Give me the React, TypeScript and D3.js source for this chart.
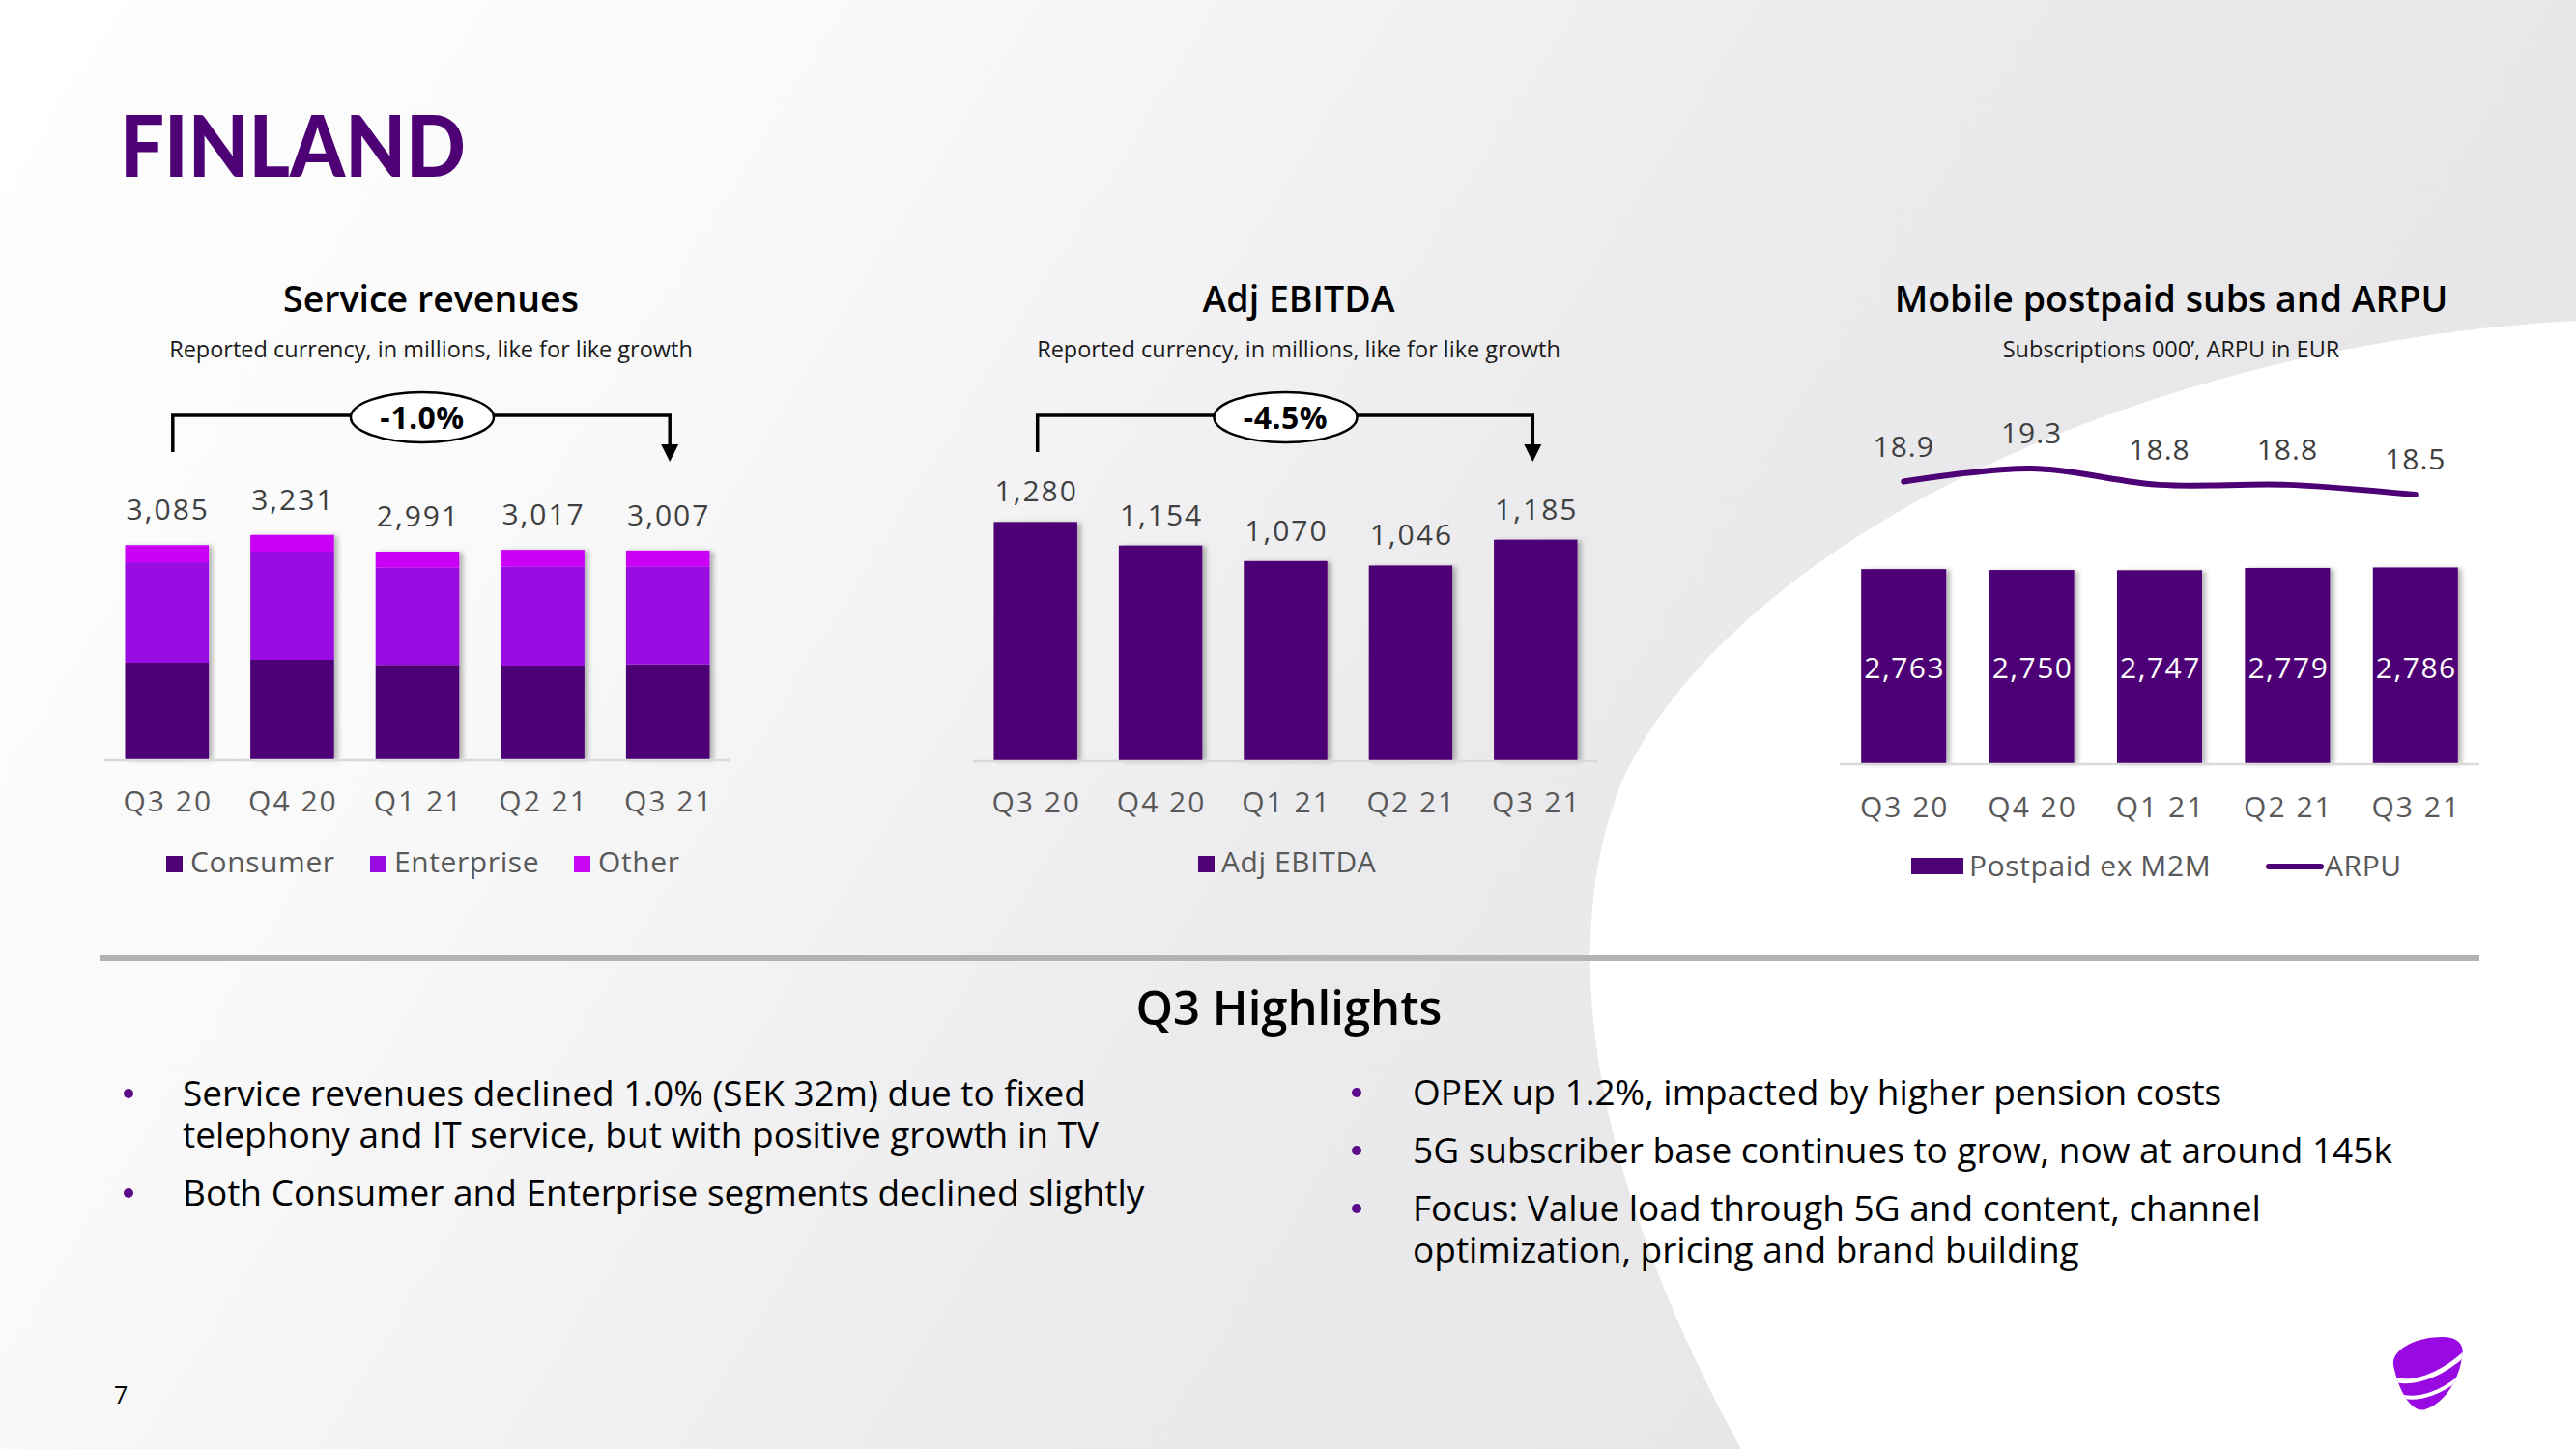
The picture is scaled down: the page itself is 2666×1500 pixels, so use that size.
import React from "react";
import * as d3 from "d3";

// ---------- data ----------
const categories = ["Q3 20", "Q4 20", "Q1 21", "Q2 21", "Q3 21"];
const consumer = [1391, 1433, 1359, 1349, 1367];
const enterprise = [1446, 1558, 1399, 1423, 1405];
const other = [248, 240, 233, 245, 235];
const serviceTotals = [3085, 3231, 2991, 3017, 3007];
const ebitda = [1280, 1154, 1070, 1046, 1185];
const postpaid = [2763, 2750, 2747, 2779, 2786];
const arpu = [18.9, 19.3, 18.8, 18.8, 18.5];
const segmentNames = ["Consumer", "Enterprise", "Other"];
const growthLabels = ["-1.0%", "-4.5%"];
const leftBullets = [
  ["Service revenues declined 1.0% (SEK 32m) due to fixed", "telephony and IT service, but with positive growth in TV"],
  ["Both Consumer and Enterprise segments declined slightly"],
];
const rightBullets = [
  ["OPEX up 1.2%, impacted by higher pension costs"],
  ["5G subscriber base continues to grow, now at around 145k"],
  ["Focus: Value load through 5G and content, channel", "optimization, pricing and brand building"],
];

// ---------- styles ----------
const DARK = "#4E0174";
const PURPLE = "#990AE3";
const MAGENTA = "#C905F5";
const segColors = [DARK, PURPLE, MAGENTA];
const FONT = "'Open Sans', 'Noto Sans', sans-serif";
const VAL = "#404040";
const CAT = "#595959";
const LS = 2;
const fmt = d3.format(",");

function Bracket({ x0, x1, cx, label }: { x0: number; x1: number; cx: number; label: string }) {
  const yTop = 430;
  return (
    <g>
      <path d={`M${x0},468 V${yTop} H${x1} V462`} fill="none" stroke="#000" strokeWidth={3.5} />
      <path d={`M${x1 - 9},460 L${x1 + 9},460 L${x1},478 Z`} fill="#000" />
      <ellipse cx={cx} cy={432} rx={74} ry={26} fill="#fff" stroke="#000" strokeWidth={2.5} />
      <text x={cx} y={444} textAnchor="middle" fontFamily={FONT} fontWeight={700} fontSize={32} letterSpacing={0.5} fill="#000">
        {label}
      </text>
    </g>
  );
}

function ChartTitle({ cx, title, sub }: { cx: number; title: string; sub: string }) {
  return (
    <g fontFamily={FONT}>
      <text x={cx} y={323} textAnchor="middle" fontSize={37.5} fontWeight={600} fill="#000">{title}</text>
      <text x={cx} y={370} textAnchor="middle" fontSize={23.5} fill="#1a1a1a">{sub}</text>
    </g>
  );
}

function Bullets({ items, dotX, textX, startY }: { items: string[][]; dotX: number; textX: number; startY: number }) {
  let y = startY;
  return (
    <g>
      {items.map((lines, bi) => {
        const y0 = y;
        y += lines.length * 43 + 17;
        return (
          <g key={bi}>
            <circle cx={dotX} cy={y0 - 13} r={5} fill="#5A0C8A" />
            <text x={textX} y={y0}>
              {lines.map((l, li) => (
                <tspan key={li} x={textX} dy={li === 0 ? 0 : 43}>{l}</tspan>
              ))}
            </text>
          </g>
        );
      })}
    </g>
  );
}

export default function App() {
  // Chart 1: service revenues (stacked)
  const x1 = d3.scaleBand<string>().domain(categories).range([108, 756]).paddingInner(0.332).paddingOuter(0.166);
  const y1 = d3.scaleLinear().domain([0, 3500]).range([786, 534.4]);
  const stackData = categories.map((c, i) => ({ cat: c, Consumer: consumer[i], Enterprise: enterprise[i], Other: other[i] }));
  const stacked = d3.stack<any>().keys(segmentNames)(stackData);

  // Chart 2: EBITDA
  const x2 = d3.scaleBand<string>().domain(categories).range([1007, 1654]).paddingInner(0.332).paddingOuter(0.166);
  const y2 = d3.scaleLinear().domain([0, 1400]).range([787, 517.2]);

  // Chart 3: postpaid + ARPU
  const x3 = d3.scaleBand<string>().domain(categories).range([1904, 2566]).paddingInner(0.335).paddingOuter(0.1675);
  const y3 = d3.scaleLinear().domain([0, 3000]).range([790, 571.9]);
  const yA = d3.scaleLinear().domain([18.5, 19.3]).range([512, 485]);
  const arpuLine = d3
    .line<number>()
    .x((_, i) => (x3(categories[i]) as number) + x3.bandwidth() / 2)
    .y((d) => yA(d))
    .curve(d3.curveCatmullRom.alpha(0.5));

  const cx = (s: d3.ScaleBand<string>, c: string) => (s(c) as number) + s.bandwidth() / 2;

  return (
    <svg width={2666} height={1500} style={{ position: "absolute", left: 0, top: 0 }} xmlns="http://www.w3.org/2000/svg">
      <defs>
        <linearGradient id="bg" x1="0" y1="0" x2="1" y2="0.35">
          <stop offset="0" stopColor="#ffffff" />
          <stop offset="0.3" stopColor="#f9f9fa" />
          <stop offset="0.65" stopColor="#ebebed" />
          <stop offset="1" stopColor="#e6e6e8" />
        </linearGradient>
        <filter id="sh" x="-20%" y="-10%" width="150%" height="120%">
          <feDropShadow dx="4" dy="1" stdDeviation="2.5" floodColor="#000" floodOpacity="0.28" />
        </filter>
        <clipPath id="logoClip">
          <path d="M2 30 C0 12 30 0 55 1 C70 2 76 10 73 22 C70 45 55 70 35 76 C22 80 8 60 2 30 Z" />
        </clipPath>
      </defs>

      {/* background */}
      <rect x={0} y={0} width={2666} height={1500} fill="url(#bg)" />
      <path d="M2666,332 C2210,357 1802,561 1683,799 C1615,952 1632,1190 1802,1500 L2666,1500 Z" fill="#fff" />

      {/* page title */}
      <text x={124} y={183} fontFamily="Lato, 'Open Sans', sans-serif" fontWeight={900} fontSize={88} fill={DARK}
        textLength={358} lengthAdjust="spacingAndGlyphs">FINLAND</text>

      {/* ---------- Chart 1 ---------- */}
      <ChartTitle cx={446} title="Service revenues" sub="Reported currency, in millions, like for like growth" />
      <Bracket x0={cx(x1, categories[0]) + 6} x1={cx(x1, categories[4]) + 2} cx={cx(x1, categories[2]) + 5} label={growthLabels[0]} />
      <g filter="url(#sh)">
        {stacked.map((layer, li) =>
          layer.map((d, i) => (
            <rect key={`${li}-${i}`} x={x1(categories[i])} y={y1(d[1])} width={x1.bandwidth()} height={y1(d[0]) - y1(d[1])} fill={segColors[li]} />
          ))
        )}
      </g>
      <line x1={108} x2={756} y1={y1(0) + 1} y2={y1(0) + 1} stroke="#d9d9d9" strokeWidth={2.5} />
      <g fontFamily={FONT} fontSize={30} fill={VAL} textAnchor="middle" letterSpacing={LS}>
        {serviceTotals.map((v, i) => (
          <text key={i} x={cx(x1, categories[i]) + 1} y={y1(v) - 26}>{fmt(v)}</text>
        ))}
      </g>
      <g fontFamily={FONT} fontSize={30} fill={CAT} textAnchor="middle" letterSpacing={LS}>
        {categories.map((c) => (
          <text key={c} x={cx(x1, c) + 1} y={840}>{c}</text>
        ))}
      </g>
      <g fontFamily={FONT} fontSize={30} fill={CAT} letterSpacing={0.6}>
        {segmentNames.map((s, i) => {
          const lx = [172, 383, 594][i];
          return (
            <g key={s}>
              <rect x={lx} y={886} width={17} height={17} fill={segColors[i]} />
              <text x={lx + 25} y={903}>{s}</text>
            </g>
          );
        })}
      </g>

      {/* ---------- Chart 2 ---------- */}
      <ChartTitle cx={1344} title="Adj EBITDA" sub="Reported currency, in millions, like for like growth" />
      <Bracket x0={cx(x2, categories[0]) + 2} x1={cx(x2, categories[4]) - 3} cx={cx(x2, categories[2])} label={growthLabels[1]} />
      <g filter="url(#sh)">
        {ebitda.map((v, i) => (
          <rect key={i} x={x2(categories[i])} y={y2(v)} width={x2.bandwidth()} height={y2(0) - y2(v)} fill={DARK} />
        ))}
      </g>
      <line x1={1007} x2={1654} y1={y2(0) + 1} y2={y2(0) + 1} stroke="#d9d9d9" strokeWidth={2.5} />
      <g fontFamily={FONT} fontSize={30} fill={VAL} textAnchor="middle" letterSpacing={LS}>
        {ebitda.map((v, i) => (
          <text key={i} x={cx(x2, categories[i]) + 1} y={y2(v) - 21}>{fmt(v)}</text>
        ))}
      </g>
      <g fontFamily={FONT} fontSize={30} fill={CAT} textAnchor="middle" letterSpacing={LS}>
        {categories.map((c) => (
          <text key={c} x={cx(x2, c) + 1} y={841}>{c}</text>
        ))}
      </g>
      <g fontFamily={FONT} fontSize={30} fill={CAT} letterSpacing={0.6}>
        <rect x={1240} y={886} width={17} height={17} fill={DARK} />
        <text x={1264} y={903}>Adj EBITDA</text>
      </g>

      {/* ---------- Chart 3 ---------- */}
      <ChartTitle cx={2247} title="Mobile postpaid subs and ARPU" sub="Subscriptions 000’, ARPU in EUR" />
      <g filter="url(#sh)">
        {postpaid.map((v, i) => (
          <rect key={i} x={x3(categories[i])} y={y3(v)} width={x3.bandwidth()} height={y3(0) - y3(v)} fill={DARK} />
        ))}
      </g>
      <line x1={1904} x2={2566} y1={y3(0) + 1} y2={y3(0) + 1} stroke="#d9d9d9" strokeWidth={2.5} />
      <g fontFamily={FONT} fontSize={30} fill="#fff" textAnchor="middle" letterSpacing={1.5}>
        {postpaid.map((v, i) => (
          <text key={i} x={cx(x3, categories[i]) + 1} y={702}>{fmt(v)}</text>
        ))}
      </g>
      <path d={arpuLine(arpu) || ""} fill="none" stroke={DARK} strokeWidth={6} strokeLinecap="round" />
      <g fontFamily={FONT} fontSize={30} fill={VAL} textAnchor="middle" letterSpacing={1}>
        {arpu.map((v, i) => (
          <text key={i} x={cx(x3, categories[i])} y={yA(v) - 26}>{v.toFixed(1)}</text>
        ))}
      </g>
      <g fontFamily={FONT} fontSize={30} fill={CAT} textAnchor="middle" letterSpacing={LS}>
        {categories.map((c) => (
          <text key={c} x={cx(x3, c) + 1} y={846}>{c}</text>
        ))}
      </g>
      <g fontFamily={FONT} fontSize={30} fill={CAT} letterSpacing={0.6}>
        <rect x={1978} y={888} width={54} height={17} fill={DARK} />
        <text x={2038} y={907}>Postpaid ex M2M</text>
        <line x1={2348} x2={2402} y1={897} y2={897} stroke={DARK} strokeWidth={6} strokeLinecap="round" />
        <text x={2406} y={907}>ARPU</text>
      </g>

      {/* separator */}
      <line x1={104} x2={2566} y1={992} y2={992} stroke="#b3b3b3" strokeWidth={6} />

      {/* highlights */}
      <text x={1334} y={1061} textAnchor="middle" fontFamily={FONT} fontSize={49} fontWeight={600} fill="#000">Q3 Highlights</text>
      <g fontFamily={FONT} fontSize={37} fill="#000">
        <Bullets items={leftBullets} dotX={133} textX={189} startY={1145} />
        <Bullets items={rightBullets} dotX={1404} textX={1462} startY={1144} />
      </g>

      {/* page number */}
      <text x={118} y={1453} fontFamily={FONT} fontSize={25} fill="#000">7</text>

      {/* logo */}
      <g transform="translate(2475,1383)">
        <path d="M2 30 C0 12 30 0 55 1 C70 2 76 10 73 22 C70 45 55 70 35 76 C22 80 8 60 2 30 Z" fill={PURPLE} />
        <g clipPath="url(#logoClip)" fill="none" stroke="#fff">
          <path d="M-2 44 C20 52 50 42 76 18" strokeWidth={5} />
          <path d="M8 62 C30 68 55 57 74 40" strokeWidth={4} />
        </g>
      </g>
    </svg>
  );
}
